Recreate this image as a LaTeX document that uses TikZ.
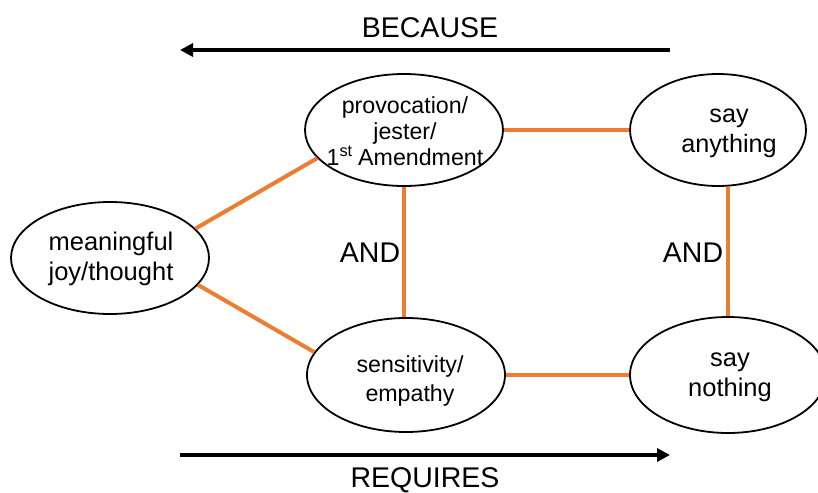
\documentclass[tikz,border=0pt]{standalone}
\usepackage{fontspec}
\setmainfont{Liberation Sans}
\usetikzlibrary{shapes.geometric,arrows.meta}
\definecolor{conorange}{RGB}{237,125,49}
\begin{document}
\begin{tikzpicture}[x=1pt,y=-1pt,
  oval/.style={ellipse,draw=black,line width=1.8pt,inner sep=0pt},
  ovaltext/.style={align=center,inner sep=0pt},
  link/.style={draw=conorange,line width=4pt},
  dirarrow/.style={line width=3.5pt,-{Triangle[length=13pt,width=13pt]}},
  big/.style={font=\fontsize{28.5}{34}\selectfont}]
\useasboundingbox (0,0) rectangle (818,492);
% ellipses
\node[oval,minimum width=198pt,minimum height=112pt] (prov) at (404,130) {};
\node[oval,minimum width=176pt,minimum height=112pt] (sayany) at (718,130) {};
\node[oval,minimum width=198pt,minimum height=112pt] (mean) at (110,258) {};
\node[oval,minimum width=198pt,minimum height=114pt] (sens) at (406,375) {};
\node[oval,minimum width=196pt,minimum height=116pt] (saynot) at (728,375) {};
% texts
\node[ovaltext,font=\fontsize{23.2}{26}\selectfont] (provt) at (405,131) {provocation/\\jester/\\1\textsuperscript{st}\kern-1pt\ Amendment};
\node[ovaltext,font=\fontsize{25.2}{30}\selectfont] (sayanyt) at (729,133) {say\\anything};
\node[ovaltext,font=\fontsize{25.5}{30}\selectfont] (meant) at (111,259) {meaningful\\joy/thought};
\node[ovaltext,font=\fontsize{23.2}{29}\selectfont] (senst) at (410,381) {sensitivity/\\empathy};
\node[ovaltext,font=\fontsize{25.5}{30}\selectfont] (saynott) at (730,377) {say\\nothing};
% orange connectors
\draw[link] (mean.19.6) -- (prov.198);
\draw[link] (mean.-17.8) -- (sens.166);
\draw[link] (prov.east) -- (sayany.west);
\draw[link] (sens.east) -- (saynot.west);
\draw[link] (prov.south) -- (prov.south |- sens.north);
\draw[link] (saynot.north |- sayany.south) -- (saynot.north);
% AND labels
\node[big,inner sep=0pt] (and1) at (370,253) {AND};
\node[big,inner sep=0pt] (and2) at (693,253) {AND};
% top and bottom arrows
\node[big,inner sep=0pt] (because) at (430,28) {BECAUSE};
\node[big,inner sep=0pt] (requires) at (425,480) {REQUIRES};
\coordinate (ba) at (670,50);
\coordinate (bb) at (180,50);
\coordinate (ra) at (180,455);
\coordinate (rb) at (670,455);
\draw[dirarrow] (ba) -- (bb);
\draw[dirarrow] (ra) -- (rb);
\end{tikzpicture}
\end{document}
